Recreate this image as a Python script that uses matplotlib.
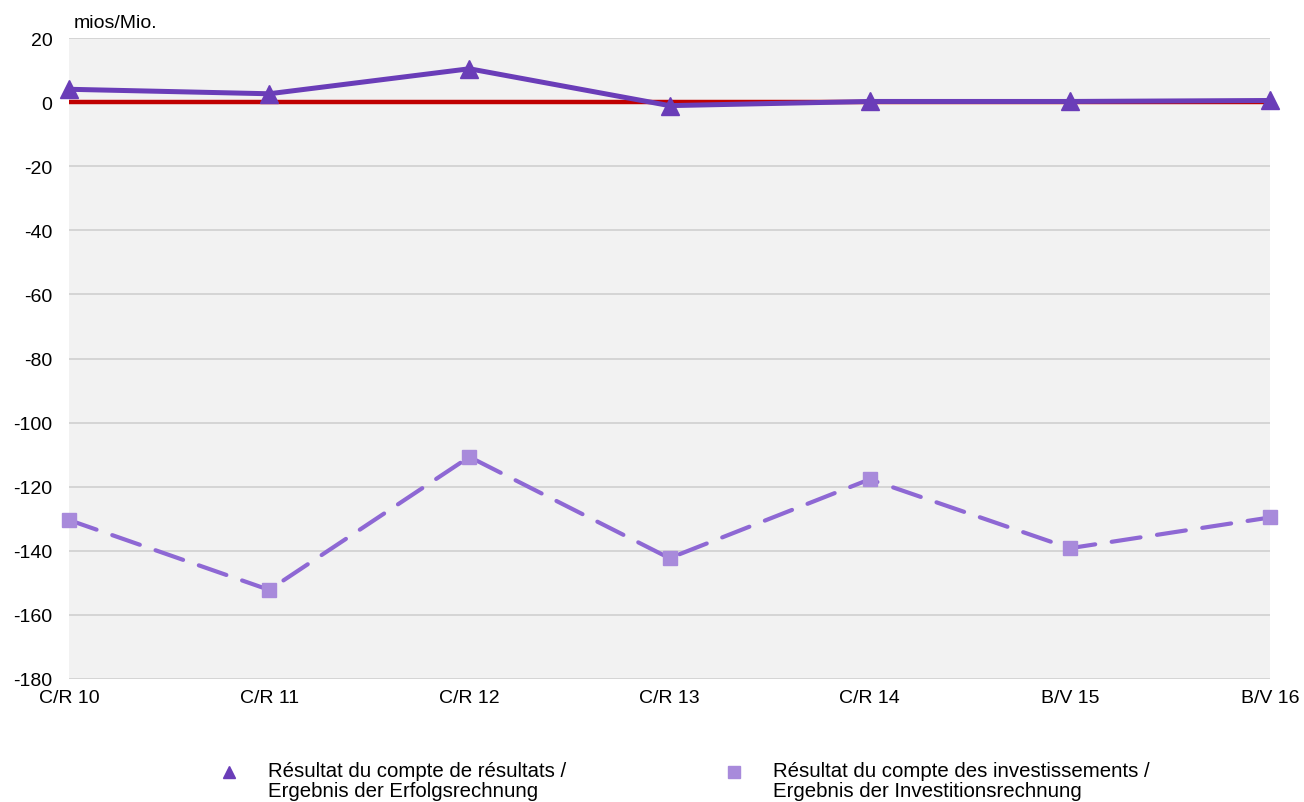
import matplotlib.pyplot as plt
from matplotlib.lines import Line2D

plt.rcParams['font.family'] = ['Liberation Sans', 'DejaVu Sans']

# --- Data (mios/Mio.) ---
years = ["C/R 10", "C/R 11", "C/R 12", "C/R 13", "C/R 14", "B/V 15", "B/V 16"]
erfolg = [4.0, 2.6, 10.4, -1.1, 0.2, 0.2, 0.5]
invest = [-130.4, -152.2, -110.7, -142.3, -117.7, -139.2, -129.6]
yticks = [20, 0, -20, -40, -60, -80, -100, -120, -140, -160, -180]

lab_erfolg = "Résultat du compte de résultats /\nErgebnis der Erfolgsrechnung"
lab_invest = "Résultat du compte des investissements /\nErgebnis der Investitionsrechnung"

c_solid = "#6A3DB8"
c_dash = "#8E68D4"
c_square = "#A88ADB"
fs = 14

W, H = 1304, 803
fig = plt.figure(figsize=(W / 100, H / 100), dpi=100)
ax = fig.add_axes([69 / W, 1 - 680 / H, 1201 / W, 641 / H])
ax.set_facecolor("#F2F2F2")

x = list(range(len(years)))

# grid
for yv in yticks:
    ax.axhline(yv, color="#D0D0D0", lw=1.2, zorder=1)

# zero reference line
ax.axhline(0, color="#C00000", lw=3.2, zorder=2)

ax.plot(x, invest, color=c_dash, lw=3.0, dashes=(7, 4), dash_capstyle="round",
        zorder=3, clip_on=False)
ax.plot(x, invest, ls="none", marker="s", ms=10, color=c_square, zorder=4,
        clip_on=False)
ax.plot(x, erfolg, color=c_solid, lw=3.6, marker="^", ms=13, zorder=5,
        clip_on=False)

ax.set_xlim(0, len(years) - 1)
ax.set_ylim(-180, 20)
ax.set_yticks(yticks)
ax.set_yticklabels([str(v) for v in yticks], fontsize=fs)
ax.set_xticks(x)
ax.set_xticklabels(years, fontsize=fs)
ax.tick_params(axis="both", length=0)
ax.tick_params(axis="y", pad=12)
ax.tick_params(axis="x", pad=7)
for s in ax.spines.values():
    s.set_visible(False)

fig.text(74 / W, 1 - 24 / H, "mios/Mio.", fontsize=fs, ha="left", va="center")

# legend, placed by hand
leg = [(229, 268, "^", c_solid, lab_erfolg), (734, 773, "s", c_square, lab_invest)]
for mx, tx, mk, col, lab in leg:
    fig.add_artist(Line2D([mx / W], [1 - 773 / H], ls="none", marker=mk, ms=8,
                          color=col, transform=fig.transFigure))
    fig.text(tx / W, 1 - 762 / H, lab, fontsize=14.7, ha="left", va="top",
             linespacing=1.08)

fig.savefig("out.png", dpi=100)
